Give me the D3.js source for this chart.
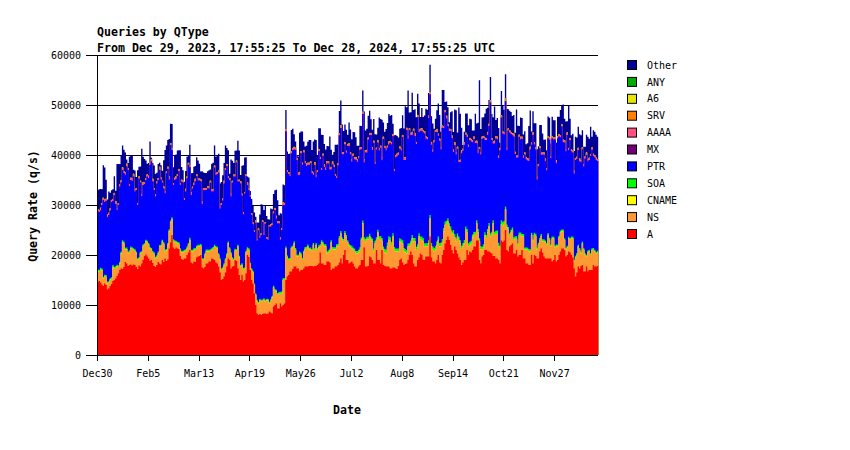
<!DOCTYPE html>
<html><head><meta charset="utf-8">
<script src="https://cdn.jsdelivr.net/npm/d3@7"></script>
<style>body{margin:0;background:#fff}svg{display:block}</style>
</head><body><svg id="c" width="850" height="450"></svg>
<script>
// ---- period / categories ----
const START = "2023-12-29T17:55:25Z";
const END   = "2024-12-28T17:55:25Z";
const TITLE1 = "Queries by QType";
const TITLE2 = "From Dec 29, 2023, 17:55:25 To Dec 28, 2024, 17:55:25 UTC";
const seriesNames = ["A","NS","CNAME","SOA","PTR","MX","AAAA","SRV","A6","ANY","Other"];
const legendOrder = ["Other","ANY","A6","SRV","AAAA","MX","PTR","SOA","CNAME","NS","A"];
const seriesColors = ["#ff0000","#ff9933","#ffff00","#00ff00","#0000ff","#730073","#ff5080","#ff8000","#e6e600","#00aa00","#000096"];
const yTicks = [0,10000,20000,30000,40000,50000,60000];
const xTickLabels = ["Dec30","Feb5","Mar13","Apr19","May26","Jul2","Aug8","Sep14","Oct21","Nov27"];
const xTickDates = ["2023-12-30","2024-02-05","2024-03-13","2024-04-19","2024-05-26","2024-07-02","2024-08-08","2024-09-14","2024-10-21","2024-11-27"];

// ---- daily series values (q/s) ----
const A = [
14600,14800,14500,14100,13800,14300,14000,13100,13300,13800,
14200,14800,15000,15300,15800,16300,17000,17300,17200,17600,
18600,18300,17800,18000,18100,17900,18100,18000,17600,17200,
17900,17700,18300,19000,19800,20100,19700,19300,18800,19000,
18400,17800,17600,18000,18600,18300,18100,19000,18600,19300,
18800,19100,21300,22500,24000,21500,21200,21500,21300,21200,
19800,19200,19000,19300,19300,20000,20500,21000,18500,18300,
18700,18600,19500,19700,19800,20000,17500,17300,17600,18300,
18300,18700,18700,19300,19200,19000,18500,18300,17700,16500,
15000,15200,15700,16500,17700,19300,19000,17300,17700,17800,
19000,18800,17300,16000,15000,16000,14700,15000,16300,20000,
19600,17000,15000,14300,12300,10000,8300,8000,8200,8000,
8200,8300,8300,8200,8300,8700,8500,8300,9700,10000,
10300,9300,9300,10300,9700,10000,10300,15000,15700,16000,
16700,16700,17200,17700,17700,17300,17300,16700,17000,17000,
17300,17700,17700,17700,17800,17800,17800,17700,17800,17800,
18000,18300,20500,18300,18300,18000,18000,18700,18700,18500,
17000,17300,17300,17700,17700,18000,18500,19300,18300,20000,
21000,19000,19000,18300,18500,18700,18300,17700,17300,17300,
17700,18000,19000,19000,21500,17700,17700,17800,19700,19500,
19000,18300,18300,21000,19000,19000,18300,21000,18000,17800,
17700,17700,17700,17300,17300,17500,17500,17300,17200,17800,
19000,19300,18500,18000,18200,18300,19000,20000,20700,20000,
18300,17700,17700,19000,19500,20300,20000,19000,19000,19700,
19700,19700,23700,19500,18700,18700,18300,19000,20000,18500,
18300,20000,21000,22300,23000,23700,23000,22000,21000,20300,
21700,21000,20300,19500,19000,18000,18500,19000,19000,21000,
20000,20700,20500,21000,21700,21700,22900,22900,19000,18300,
19700,20000,21000,21000,20700,20700,20500,20300,19800,19800,
19300,19300,19000,18300,22900,22600,22900,25000,21000,20700,
21700,22000,22300,20300,20300,21000,19700,20000,20000,21000,
19300,19300,18300,18300,18000,18000,20000,18300,20000,19800,
19300,19300,20700,21300,20500,19700,19300,19300,19300,19300,
19300,18700,19000,20000,18700,19000,20000,20700,21300,21300,
21000,19700,20000,20700,20500,20000,19500,17300,15700,16500,
17700,17300,17800,18000,16700,16700,17700,16700,17000,17000,
17000,18000,17700,17700,17800];
const NS = [
2100,1800,2500,2800,1500,1400,1600,1200,1100,1200,
1000,2800,2200,2100,1900,1300,1300,3000,5300,4600,
2400,2800,2500,2600,3200,3300,2900,2800,2700,1800,
1300,2600,2100,2800,2200,2600,2800,2700,2400,2000,
2000,2400,1700,1600,1700,3300,3600,3700,3600,1400,
2000,2900,3400,4000,3200,1300,1400,1000,1000,1000,
1200,1300,1500,1400,1500,1300,1500,2000,2200,2400,
2300,2400,2000,2000,1900,1800,1500,1700,2400,2400,
2400,2000,2100,1700,2000,2700,2900,3000,2300,2500,
2000,2000,2300,2500,2300,3000,2200,2900,1500,1100,
1900,2000,4400,3500,2700,2000,2300,2200,4200,1200,
1400,1200,2000,2200,1700,2000,2400,2300,2700,2700,
2600,2700,2400,2700,2600,1600,2300,3200,3800,2800,
2400,2700,2900,1900,2600,5000,4700,6300,3800,3000,
2300,4600,4300,4600,3300,2400,2400,3600,3000,2000,
3200,3500,3500,4000,3300,3300,2900,4300,3200,4200,
3000,3200,1200,4200,3900,3700,3700,1600,1800,2300,
5500,3800,3800,3400,4000,3700,4800,5000,4700,2700,
3300,4500,3500,3500,3000,2600,2700,3100,3000,3000,
2800,3000,4000,7300,1500,5000,5400,5300,4000,3500,
3700,2400,4000,2000,5500,4200,4900,1800,3100,2700,
2600,4000,5300,5500,4700,6200,3500,3400,3500,2900,
3700,3200,3800,2700,2300,2000,2700,1700,1500,3300,
4400,5000,3300,2500,4200,2700,3000,3700,2700,2000,
2000,2500,3600,2200,2300,2000,2800,3000,3000,3200,
3400,2500,3700,3700,3200,3000,2700,3000,3000,4000,
1800,1700,3400,3500,3300,3200,3200,3300,6000,3500,
1700,1300,1700,2500,2300,2300,3400,1600,3700,2800,
1400,1500,2900,2300,3800,5000,3200,3700,6500,4200,
4900,4900,2700,2800,3200,3200,3300,4100,4500,4300,
2100,2500,2700,2700,2900,2200,2100,4000,4000,2700,
4400,1700,2800,2700,2700,2700,4000,4400,4000,4000,
1700,2700,2300,2500,2200,3000,3200,2700,4700,3700,
2400,4600,4300,1500,3000,2700,3500,3800,3400,3400,
2000,1300,1500,2600,2500,3300,3800,1400,3800,3500,
4000,3700,2500,4300,4300,3300,2000,3800,3700,3000,
4000,3000,3000,2500,2700];
const CNAME = [
90,110,120,100,80,70,60,60,70,80,
60,70,90,60,50,60,70,80,100,120,
110,90,80,70,60,60,70,60,50,60,
70,80,60,50,50,60,70,80,90,80,
70,60,60,50,60,70,60,50,60,70,
80,90,120,80,60,50,50,60,60,50,
60,70,60,50,50,60,70,60,50,60,
70,60,50,60,70,80,60,50,60,70,
60,50,60,70,60,50,60,60,70,60,
50,50,60,60,70,80,60,50,50,60,
60,70,60,50,60,70,60,50,40,50,
40,40,50,50,40,40,50,40,40,50,
40,50,40,40,50,50,40,50,60,60,
50,60,50,50,60,70,60,70,60,50,
60,60,50,60,70,60,50,60,70,60,
50,60,70,60,50,60,70,60,50,60,
70,60,50,60,70,80,60,50,60,70,
60,60,70,80,70,60,60,70,90,70,
60,70,60,50,60,70,60,60,70,60,
60,70,80,120,70,60,60,70,60,60,
70,60,60,70,60,50,60,70,60,60,
60,60,70,60,60,70,60,50,60,60,
70,60,60,70,80,70,60,60,70,60,
60,70,60,60,70,80,60,60,70,60,
60,150,60,60,70,60,60,70,60,60,
70,60,60,70,60,60,70,60,60,60,
60,70,60,60,60,70,60,60,70,60,
60,60,70,60,60,70,60,60,60,70,
60,60,70,60,60,60,70,60,80,60,
60,70,60,60,60,70,60,60,70,60,
60,60,60,70,60,60,70,60,60,60,
70,60,60,60,70,60,60,60,70,60,
60,70,60,60,60,70,60,60,60,70,
60,60,70,60,60,60,70,60,60,60,
70,60,60,60,70,60,60,60,70,60,
60,70,60,60,60,70,60,60,60,70,
60,60,70,60,60];
const SOA = [
300,320,350,300,280,300,320,340,300,280,
300,320,340,300,320,300,280,300,350,380,
320,300,280,300,320,300,280,300,320,300,
300,280,300,320,300,280,300,320,300,300,
320,300,280,300,320,340,300,280,300,320,
300,320,340,300,280,300,320,300,280,300,
300,280,300,320,300,320,340,380,300,280,
300,320,300,280,300,320,300,280,300,320,
340,300,280,300,320,300,280,300,300,280,
300,320,300,280,300,320,300,320,280,300,
300,280,300,320,300,300,320,280,300,320,
300,280,300,280,260,280,300,280,260,280,
260,280,300,280,260,280,300,280,300,320,
300,320,340,380,320,300,320,340,320,300,
340,320,300,380,320,300,320,340,360,340,
320,340,360,340,320,340,360,340,320,340,
360,380,400,380,360,380,400,420,400,380,
400,420,400,380,400,420,440,420,400,420,
440,420,400,420,440,460,440,420,440,460,
480,460,440,460,500,520,480,460,480,500,
520,540,500,480,500,520,560,540,520,700,
720,740,700,680,600,580,560,540,520,540,
560,580,600,620,600,580,560,580,600,620,
640,620,600,580,600,620,640,620,600,580,
600,620,640,660,640,620,600,620,640,660,
680,660,640,620,600,580,600,620,640,620,
600,580,560,580,600,620,640,660,640,620,
600,580,560,540,560,580,600,620,600,580,
560,580,600,620,640,620,600,580,560,580,
600,620,700,760,800,760,600,560,540,520,
500,480,460,480,500,480,460,440,420,440,
420,400,380,400,420,400,380,360,380,400,
380,360,340,360,380,360,340,320,340,360,
340,320,300,320,340,320,300,320,340,320,
300,320,300,280,300,320,300,280,300,320,
300,320,340,320,300,280,300,320,300,280,
300,320,300,280,300];
const PTR = [
11600,11500,11400,12700,15300,14500,14800,12800,13200,13500,
15000,12800,14300,12400,10900,12000,15000,13800,14000,13600,
14600,16200,16300,12800,13300,13200,14300,11500,12300,10600,
15700,13800,11000,11800,11800,11900,12800,12900,16400,17300,
13900,12400,12000,14300,14300,15000,13000,11400,10700,11200,
15100,14800,9900,15100,13400,10800,12000,12300,13100,14200,
12600,13800,13600,9900,11500,13600,15600,14100,10900,12200,
12600,13300,13900,12800,12800,12500,10800,13600,12600,11900,
12200,12200,13300,11300,11100,15400,14200,14500,16100,9900,
12600,13300,15900,17600,17400,12600,13400,11100,14900,16400,
14400,17300,12600,14800,16200,13500,10700,14700,14900,12400,
11600,13100,10600,9300,10300,14100,11800,14300,12200,12900,
15500,12600,15200,12000,11800,15000,14500,14100,14400,15800,
14200,13900,13700,10400,12300,14600,14600,23000,16600,16800,
16300,18600,19100,18300,19600,18900,15900,15300,19900,18600,
19600,16700,16100,15900,16500,16800,15200,13600,16600,13100,
15100,18800,17000,14000,17200,15400,14800,17500,17300,15800,
14100,16500,16000,14200,13200,15700,20100,20600,16600,16900,
17300,16400,18800,19500,18100,16800,18300,17800,18200,17800,
18200,19500,17600,21300,14900,17200,16800,19400,19700,20400,
17700,21100,15300,17500,17400,17100,17600,15500,21500,20100,
19800,18900,18300,18800,19400,19400,15100,18200,18400,18700,
17900,17700,20600,17600,17800,24000,20900,22600,21100,20000,
21400,20400,20500,25400,20200,21100,21100,21100,21900,20900,
20700,24400,24100,19600,18900,21100,22800,21900,20100,20400,
18600,22200,19900,21800,20400,18400,18400,19100,18600,15600,
17800,16700,16900,14900,15600,18400,18400,19000,18300,18400,
19200,20300,19800,18400,18600,17700,15400,15100,17800,18300,
21500,21200,18400,19000,18800,19400,26100,18300,15300,17600,
18400,18200,16900,19000,20500,17600,17200,21000,14800,19300,
20100,19100,18400,20100,16400,15700,17100,19100,18600,19000,
15200,18600,17500,17400,17600,19900,17600,20900,17600,16800,
13600,15300,17900,15800,16900,16900,15800,14500,18900,19600,
17200,19600,19400,21200,16200,21200,19800,18600,20600,17400,
19100,19300,22100,17300,19600,17000,16800,17200,19100,18800,
18900,17300,17800,18400,16300,18900,19900,17800,17900,19400,
19700,18400,18400,18400,17900];
const MX = [
30,40,30,20,30,40,50,30,20,30,
40,30,30,40,20,30,40,30,30,40,
30,20,30,40,30,30,40,30,20,30,
30,40,30,30,20,30,40,30,40,30,
20,30,40,30,30,40,30,20,30,40,
30,30,40,30,20,30,40,30,30,40,
30,20,30,40,30,30,40,30,20,30,
40,30,30,40,30,20,30,40,30,30,
30,40,30,20,30,30,40,30,30,20,
30,40,30,30,40,30,20,30,40,30,
20,30,20,30,20,20,30,20,20,30,
20,20,30,20,20,30,20,20,30,20,
20,30,20,20,30,20,30,30,40,30,
40,30,30,40,30,30,40,50,40,30,
30,40,30,30,40,30,40,30,30,40,
40,30,40,30,30,40,30,40,30,30,
30,40,30,40,30,30,40,30,40,30,
40,30,30,40,30,40,30,30,40,30,
30,40,30,30,40,30,40,30,30,40,
40,30,40,30,30,40,30,40,30,30,
30,30,40,30,40,30,30,40,30,40,
40,30,30,40,30,30,40,30,40,30,
30,40,30,30,40,30,40,30,30,40,
40,30,40,30,30,40,30,30,40,30,
30,40,30,40,30,30,40,30,30,40,
40,30,30,40,30,40,30,30,40,30,
30,40,30,30,40,30,40,30,30,40,
40,30,40,30,30,40,30,40,30,30,
30,30,40,30,40,30,30,40,30,40,
40,30,30,40,30,30,40,30,40,30,
30,40,30,30,40,30,40,30,30,40,
40,30,40,30,30,40,30,30,40,30,
30,40,30,40,30,30,40,30,30,40,
40,30,30,40,30,40,30,30,40,30,
30,40,30,30,40,30,40,30,30,40,
40,30,40,30,30,40,30,40,30,30,
30,30,40,30,40];
const AAAA = [
400,380,360,340,380,420,360,340,400,380,
340,360,380,400,360,340,420,380,360,340,
380,360,340,360,380,400,360,340,320,360,
340,320,360,380,340,360,380,340,360,380,
360,340,380,360,340,380,360,340,360,380,
340,360,380,360,340,320,360,380,340,360,
380,360,340,360,380,360,340,360,380,340,
360,340,320,340,360,380,340,360,340,320,
340,360,340,320,340,360,380,340,360,340,
320,340,360,340,320,340,360,340,320,340,
320,340,300,320,300,320,340,300,320,300,
280,300,320,300,280,300,280,300,320,300,
280,300,280,300,320,300,280,300,320,340,
340,360,340,380,340,360,340,360,380,360,
360,380,360,340,380,360,380,360,340,360,
380,360,340,360,380,360,340,360,380,360,
340,360,380,360,340,360,380,400,360,340,
360,380,360,340,360,380,360,340,380,360,
380,360,340,360,380,360,380,360,340,380,
360,380,360,400,420,380,360,380,360,340,
360,380,360,340,360,380,360,340,380,360,
380,360,380,360,340,360,380,360,340,380,
360,340,360,380,360,380,360,340,360,380,
380,360,340,360,380,360,340,380,360,380,
360,380,400,360,380,360,340,360,380,360,
380,360,380,360,340,380,360,340,360,380,
360,380,360,340,360,380,360,380,360,340,
380,360,340,360,380,360,400,380,360,340,
360,380,360,340,360,380,360,340,380,360,
380,360,380,400,380,360,340,360,380,360,
360,340,360,380,360,340,360,380,360,340,
380,360,340,360,380,360,340,380,360,380,
360,380,360,340,360,380,360,340,360,380,
380,360,340,360,380,360,380,360,340,360,
360,380,360,380,360,340,360,380,360,380,
380,360,340,360,380,360,340,360,380,360,
360,380,360,340,360];
const SRV = [
40,50,180,40,60,50,40,200,50,40,
60,40,50,190,40,50,60,40,210,50,
40,200,50,40,60,40,180,50,40,60,
50,40,60,210,40,50,40,190,60,40,
180,50,40,60,40,200,50,40,60,50,
40,60,190,40,50,40,60,210,40,50,
50,40,60,40,200,50,40,60,180,40,
60,210,40,50,40,60,190,40,50,40,
40,50,60,200,40,50,40,60,40,180,
50,40,190,40,60,40,50,210,40,60,
40,60,40,50,180,40,60,40,50,200,
60,40,50,40,60,190,40,50,40,60,
40,200,60,40,50,40,210,40,60,50,
190,40,50,60,40,200,50,40,60,40,
40,60,40,210,50,40,60,180,40,50,
50,40,200,40,60,50,40,60,190,40,
60,50,40,60,40,210,50,40,60,40,
40,190,60,40,50,40,60,200,40,50,
50,40,60,180,40,60,40,50,210,40,
40,60,40,50,200,40,190,60,40,50,
210,40,50,40,60,50,40,180,60,40,
40,50,190,60,40,40,60,50,200,40,
60,40,50,40,210,60,40,50,40,180,
40,200,40,60,50,40,190,40,60,50,
50,40,60,180,40,50,40,210,50,40,
40,60,40,50,200,40,60,40,190,60,
190,40,50,40,60,210,40,50,40,60,
40,50,200,60,40,50,40,180,60,40,
60,40,50,40,190,40,60,50,40,210,
40,180,60,40,50,60,40,200,50,40,
50,40,40,210,60,40,50,40,190,60,
40,60,190,40,50,200,40,60,40,50,
200,40,50,60,40,50,180,40,60,40,
40,50,60,40,210,40,50,60,40,190,
60,40,180,50,40,60,40,200,50,40,
40,210,40,60,50,40,190,40,60,50,
50,40,60,200,40];
const A6 = [
5,8,6,4,7,5,9,6,5,7,
6,5,7,8,4,6,5,7,9,6,
7,6,5,4,6,8,7,5,6,4,
5,7,8,6,5,4,6,7,5,8,
6,4,5,7,8,6,5,4,7,6,
8,6,7,5,4,6,8,7,5,6,
4,5,6,8,7,5,4,6,8,7,
6,7,5,4,6,7,8,5,6,4,
7,5,4,6,8,5,6,7,4,6,
5,6,8,7,5,4,6,5,8,7,
4,5,4,3,5,4,3,4,5,4,
3,4,3,4,3,3,4,3,4,3,
4,3,4,5,4,3,5,4,6,5,
6,7,5,8,6,7,9,8,6,7,
7,6,8,7,9,6,7,8,6,7,
8,7,6,7,8,9,7,6,8,7,
7,8,9,7,6,8,7,9,8,6,
6,7,8,9,7,6,8,7,9,8,
8,9,7,6,8,7,9,8,7,6,
7,8,6,9,10,8,7,6,8,9,
9,7,8,6,7,9,8,7,6,8,
8,6,7,9,8,7,6,8,9,7,
7,9,8,7,6,8,9,7,8,6,
6,8,9,8,7,6,8,9,7,8,
8,7,6,7,9,8,7,6,9,7,
9,8,7,6,8,9,7,8,6,7,
7,6,8,9,7,8,6,7,9,8,
8,9,7,8,6,7,9,8,7,6,
6,7,9,7,8,6,7,9,8,7,
7,8,6,9,10,8,7,6,7,8,
8,7,9,8,7,6,8,7,9,8,
7,9,8,6,7,8,9,7,6,8,
9,8,7,8,6,7,8,9,7,6,
6,7,8,7,9,8,6,7,8,9,
8,6,7,9,8,7,9,6,7,8,
7,8,9,7,6,8,7,8,9,7,
8,7,6,8,7];
const ANY = [
30,25,35,40,30,20,25,30,35,30,
25,30,40,35,30,25,20,30,45,35,
30,35,25,20,30,40,35,30,25,30,
35,30,25,30,40,30,25,35,30,25,
30,25,35,30,25,30,40,35,30,25,
25,30,35,40,30,25,30,35,25,30,
30,35,30,25,30,35,40,30,25,30,
35,30,25,30,35,30,25,30,35,40,
30,25,30,35,30,25,35,30,25,30,
25,30,35,30,25,30,35,40,30,25,
20,25,20,25,20,20,25,20,25,20,
20,20,25,20,20,25,20,20,25,20,
25,20,20,25,20,25,30,25,30,35,
35,40,35,45,40,35,40,45,40,35,
40,35,45,40,35,40,45,50,40,35,
40,45,40,35,40,45,40,35,45,40,
45,40,35,40,45,50,40,35,40,45,
40,45,50,45,40,35,40,45,50,45,
40,35,40,45,50,45,40,35,40,45,
50,45,40,55,60,45,40,45,50,45,
40,45,50,45,40,45,50,55,45,40,
45,50,45,40,45,50,45,40,45,50,
45,40,45,50,45,40,50,45,40,45,
50,45,40,45,50,45,40,45,50,45,
45,50,55,45,40,45,50,45,40,45,
50,45,40,45,50,45,40,50,45,40,
45,50,45,40,45,50,45,40,45,50,
45,40,45,50,45,40,55,50,45,40,
40,45,50,45,40,45,50,45,40,45,
50,45,50,55,50,45,40,45,50,45,
40,45,40,35,40,45,40,35,40,45,
40,35,40,45,40,35,40,35,40,35,
35,40,35,30,35,40,35,30,35,40,
35,30,35,40,35,30,35,40,35,30,
30,35,30,35,40,35,30,35,30,35,
35,30,35,30,35,40,35,30,35,30,
30,35,30,35,30];
const Other = [
3800,4100,3700,2700,6500,6400,3800,3000,4200,3100,
1900,1900,3300,2000,8800,7800,4000,5000,4300,4300,
4000,800,1000,5400,4500,4500,800,3800,2200,6500,
1900,2800,9000,5000,4600,3500,2100,2500,4200,300,
3100,4500,4100,1700,2800,800,2400,2000,5200,8200,
5200,5300,7500,3800,4800,3200,4500,4300,4700,3700,
6500,2500,2000,3200,3500,3900,1500,4000,3800,2700,
3200,2500,3400,3600,2900,1500,6000,3100,3000,3000,
3000,3200,2200,5000,5300,4000,3200,3300,3300,4500,
4200,4600,3500,4500,3200,5200,800,6800,4000,2300,
4800,2000,7800,5800,1200,5600,9400,6900,3400,1200,
2200,800,2800,3300,3500,700,3300,1200,4300,5800,
3100,4500,3200,4200,3700,1100,3100,2800,3500,3500,
5200,4200,1200,4800,2800,3500,3500,3800,3700,3600,
4100,4200,3800,2500,1200,500,3200,7800,3900,6200,
1700,2900,3500,4200,4500,4200,4200,6200,4500,7000,
3000,4100,5700,6600,3700,4000,3600,3000,3000,6200,
3500,1300,2500,5800,6200,3700,4400,4900,5500,4200,
3500,4200,1800,4100,4500,4000,4300,5000,3900,2700,
2100,4300,4200,4200,9500,3900,4200,4300,4400,2700,
3400,4300,5500,2600,2500,6100,5300,7500,2800,2800,
3800,4500,5500,5000,5500,2000,6700,4000,3500,3000,
3500,4100,3900,5800,10100,4100,9200,3100,4100,7800,
3700,4700,4900,4200,5200,2300,4000,2600,3100,5500,
5500,4500,5400,5100,5200,2300,2200,3700,6000,4700,
3100,7100,7200,1600,2800,3300,1300,3300,4800,3500,
6500,8400,2800,10500,9200,4500,700,2100,3800,4200,
3900,3800,3900,1900,1200,5400,3400,5500,13300,4700,
3800,3700,4800,5800,4800,4700,4600,4800,4800,6800,
3200,3700,5500,1000,4800,5200,4500,4800,7800,3800,
3900,4000,3400,3700,3800,9200,5900,1700,3800,3700,
4200,4200,2500,3000,6500,7200,2200,4200,3800,4800,
5500,3500,4200,5500,3800,2500,3800,3600,3900,3900,
2500,3900,3400,3400,3500,3900,3500,5000,3800,7000,
4300,5500,2200,8500,3800,2800,3300,3900,4200,3800,
4200,4800,5000,3400,3500,1900,3500,4500,3800,5400,
2100,4700,4700,4500,4400];

// ---- drawing ----
const valuesBy = {A,NS,CNAME,SOA,PTR,MX,AAAA,SRV,A6,ANY,Other};
const colorOf = {}; seriesNames.forEach((k,i)=>colorOf[k]=seriesColors[i]);
const svg = d3.select("#c");
svg.append("rect").attr("width",850).attr("height",450).attr("fill","#fff");
const MONO = "'DejaVu Sans Mono', 'Liberation Mono', monospace";

const start = new Date(START), end = new Date(END);
const N = A.length;
const days = d3.range(N).map(i => d3.utcDay.offset(start, i));
const x = d3.scaleUtc().domain([start, end]).range([97.2, 598.2]);
const y = d3.scaleLinear().domain([0, 60000]).range([355, 55]);

const rows = days.map((d,i) => { const r = {date:d}; seriesNames.forEach(k => r[k] = valuesBy[k][i]); return r; });
rows.push(Object.assign({}, rows[N-1], {date:end}));
const layers = d3.stack().keys(seriesNames)(rows);

// gridlines (behind data)
svg.append("g").selectAll("line").data(yTicks.filter(v => v > 0)).join("line")
  .attr("x1", 97).attr("x2", 598)
  .attr("y1", d => Math.round(y(d)) + 0.5).attr("y2", d => Math.round(y(d)) + 0.5)
  .attr("stroke", "#000").attr("stroke-width", 1);

// stacked step areas, drawn from baseline, top layer first (no seams)
const area = d3.area().curve(d3.curveStepAfter)
  .x(d => x(d.data.date)).y0(y(0)).y1(d => y(d[1]));
svg.append("g").selectAll("path").data(layers.slice().reverse()).join("path")
  .attr("d", area).attr("fill", d => colorOf[d.key]);

// axes
svg.append("line").attr("x1",97.5).attr("x2",97.5).attr("y1",55).attr("y2",355).attr("stroke","#000");
svg.append("line").attr("x1",97).attr("x2",598).attr("y1",355.5).attr("y2",355.5).attr("stroke","#000");
svg.append("g").selectAll("line").data(yTicks).join("line")
  .attr("x1", 86).attr("x2", 97)
  .attr("y1", d => Math.round(y(d)) + 0.5).attr("y2", d => Math.round(y(d)) + 0.5)
  .attr("stroke", "#000");
svg.append("g").selectAll("text").data(yTicks).join("text")
  .attr("x", 81).attr("y", d => y(d) + 3.6).attr("text-anchor","end")
  .attr("font-family", MONO).attr("font-size", 10).attr("fill","#000")
  .text(d => d);

const xt = xTickDates.map(s => new Date(s + "T00:00:00Z"));
svg.append("g").selectAll("line").data(xt).join("line")
  .attr("x1", d => Math.floor(x(d)) + 0.5).attr("x2", d => Math.floor(x(d)) + 0.5)
  .attr("y1", 355).attr("y2", 361).attr("stroke","#000");
svg.append("g").selectAll("text").data(xt).join("text")
  .attr("x", d => x(d)).attr("y", 376.5).attr("text-anchor","middle")
  .attr("font-family", MONO).attr("font-size", 10).attr("fill","#000")
  .text((d,i) => xTickLabels[i]);

// titles
svg.append("text").attr("x",97).attr("y",35.5).attr("font-family",MONO).attr("font-weight","bold")
  .attr("font-size",11.6).text(TITLE1);
svg.append("text").attr("x",97).attr("y",51.5).attr("font-family",MONO).attr("font-weight","bold")
  .attr("font-size",11.6).text(TITLE2);
svg.append("text").attr("x",347).attr("y",414).attr("text-anchor","middle").attr("font-family",MONO)
  .attr("font-weight","bold").attr("font-size",11.6).text("Date");
svg.append("text").attr("transform","translate(37,206) rotate(-90)").attr("text-anchor","middle")
  .attr("font-family",MONO).attr("font-weight","bold").attr("font-size",11.6).text("Query Rate (q/s)");

// legend
const lg = svg.append("g").selectAll("g").data(legendOrder).join("g")
  .attr("transform", (d,i) => `translate(0,${60 + 16.9*i})`);
lg.append("rect").attr("x",627.5).attr("y",0.5).attr("width",9).attr("height",9)
  .attr("fill", d => colorOf[d]).attr("stroke","#000");
lg.append("text").attr("x",647).attr("y",8.6).attr("font-family",MONO).attr("font-size",10)
  .text(d => d);
</script>
</body></html>
